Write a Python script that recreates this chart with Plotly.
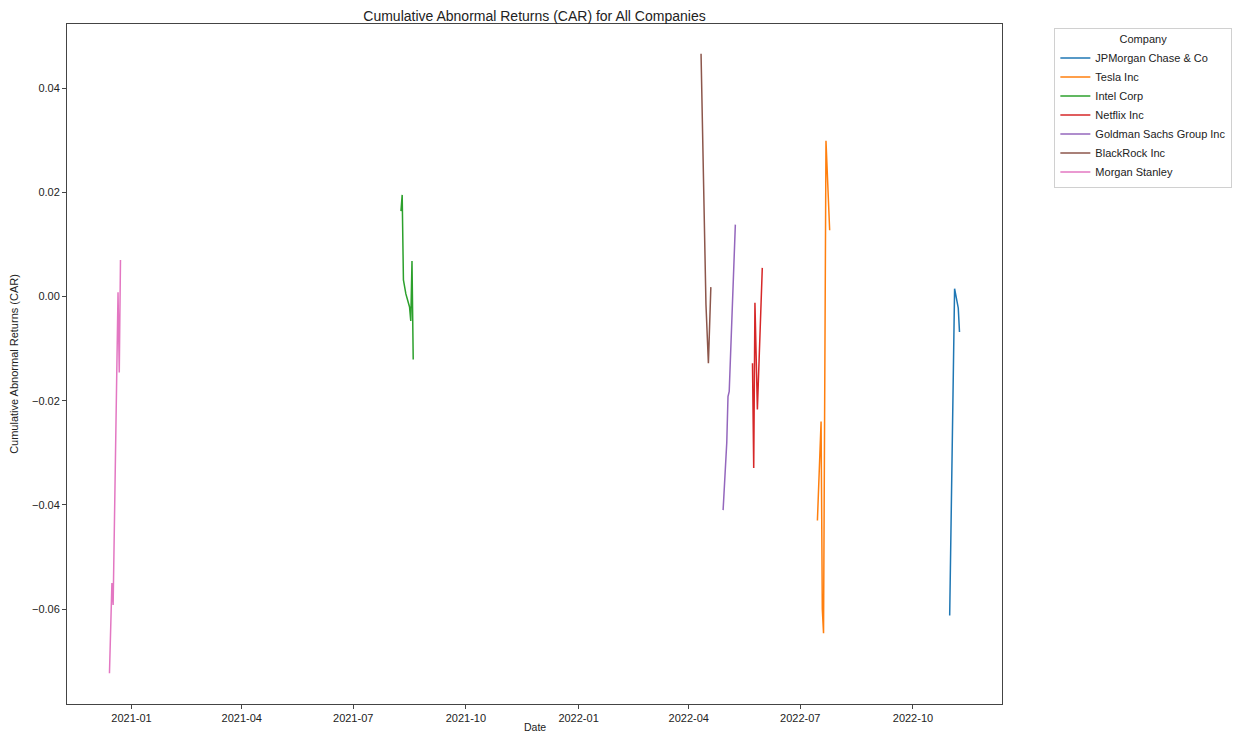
import plotly.graph_objects as go

# ---- data ----
companies = ["JPMorgan Chase & Co", "Tesla Inc", "Intel Corp", "Netflix Inc",
             "Goldman Sachs Group Inc", "BlackRock Inc", "Morgan Stanley"]
colors = ["#1f77b4", "#ff7f0e", "#2ca02c", "#d62728", "#9467bd", "#8c564b", "#e377c2"]

jpm_dates = ["2022-10-31", "2022-11-02", "2022-11-04", "2022-11-07", "2022-11-08"]
jpm_car = [-0.0612, -0.0290, 0.0015, -0.0022, -0.0068]

tsla_dates = ["2022-07-15", "2022-07-18", "2022-07-19", "2022-07-20", "2022-07-22", "2022-07-25"]
tsla_car = [-0.0430, -0.0240, -0.0600, -0.0646, 0.0299, 0.0127]

intc_dates = ["2021-08-09", "2021-08-10", "2021-08-11", "2021-08-12", "2021-08-13",
              "2021-08-16", "2021-08-17", "2021-08-18", "2021-08-19"]
intc_car = [0.0164, 0.0195, 0.0032, 0.0015, 0.0005, -0.0020, -0.0047, 0.0068, -0.0121]

nflx_dates = ["2022-05-23", "2022-05-24", "2022-05-25", "2022-05-27", "2022-05-31"]
nflx_car = [-0.0128, -0.0329, -0.0012, -0.0217, 0.0055]

gs_dates = ["2022-04-29", "2022-05-02", "2022-05-03", "2022-05-04", "2022-05-09"]
gs_car = [-0.0410, -0.0280, -0.0192, -0.0182, 0.0138]

blk_dates = ["2022-04-11", "2022-04-15", "2022-04-17", "2022-04-19"]
blk_car = [0.0466, -0.0015, -0.0128, 0.0018]

ms_dates = ["2020-12-14", "2020-12-16", "2020-12-17", "2020-12-21", "2020-12-22", "2020-12-23"]
ms_car = [-0.0723, -0.0550, -0.0592, 0.0008, -0.0146, 0.0070]

series_dates = [jpm_dates, tsla_dates, intc_dates, nflx_dates, gs_dates, blk_dates, ms_dates]
series_car = [jpm_car, tsla_car, intc_car, nflx_car, gs_car, blk_car, ms_car]

y_ticks = [-0.06, -0.04, -0.02, 0.00, 0.02, 0.04]

FONT = "Liberation Sans, Arial, sans-serif"
TXT = "#222"

fig = go.Figure()
for name, col, d, v in zip(companies, colors, series_dates, series_car):
    fig.add_trace(go.Scatter(x=d, y=v, mode="lines", name=name,
                             line=dict(color=col, width=1.5)))

# the page body adds an 8px margin, so the figure is 8px smaller than the window
fig.update_layout(
    width=1236, height=726,
    margin=dict(l=59, r=234, t=16, b=30),
    paper_bgcolor="white", plot_bgcolor="white",
    font=dict(family=FONT, size=11, color=TXT),
    title=dict(text="Cumulative Abnormal Returns (CAR) for All Companies",
               x=0.5, xref="paper", xanchor="center",
               y=1, yref="paper", yanchor="bottom", pad=dict(b=3),
               font=dict(size=14, color=TXT, family=FONT)),
    showlegend=True,
    legend=dict(x=1.056, y=0.994, xanchor="left", yanchor="top",
                bordercolor="#d0d0d0", borderwidth=1, bgcolor="white",
                font=dict(size=11, color=TXT, family=FONT),
                title=dict(text="Company", side="top center",
                           font=dict(size=11, color=TXT, family=FONT)),
                tracegroupgap=0),
    annotations=[dict(text="Date", xref="paper", yref="paper",
                      x=0.5, y=-0.0335, xanchor="center", yanchor="middle",
                      showarrow=False, font=dict(size=10.5, color=TXT, family=FONT))],
)

fig.update_xaxes(
    type="date",
    range=["2020-11-09 08:00", "2022-12-12 17:00"],
    tick0="2021-01-01", dtick="M3", tickformat="%Y-%m",
    showgrid=False, zeroline=False,
    showline=True, mirror=True, linecolor="#444", linewidth=1,
    ticks="outside", ticklen=4, tickcolor="#444",
    tickfont=dict(size=11, color=TXT),
    automargin=False,
)
fig.update_yaxes(
    range=[-0.0782, 0.0523],
    tickvals=y_ticks, tickformat=".2f",
    showgrid=False, zeroline=False,
    showline=True, mirror=True, linecolor="#444", linewidth=1,
    ticks="outside", ticklen=4, tickcolor="#444",
    tickfont=dict(size=11, color=TXT),
    title=dict(text="Cumulative Abnormal Returns (CAR)", standoff=15,
               font=dict(size=11, color=TXT)),
    automargin=False,
)

fig.write_html("out.html")
